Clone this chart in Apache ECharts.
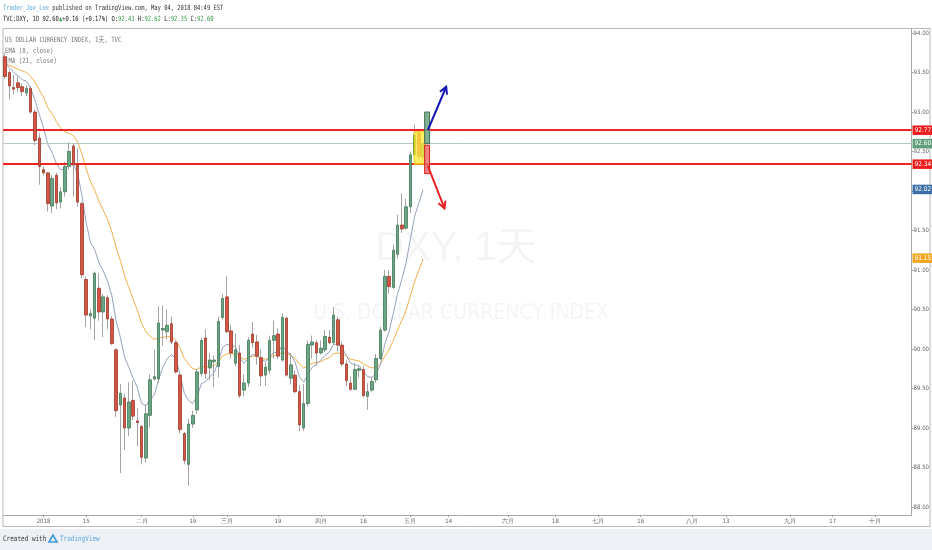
<!DOCTYPE html>
<html><head><meta charset="utf-8">
<script src="https://cdn.jsdelivr.net/npm/echarts@6/dist/echarts.min.js"></script>
<style>html,body{margin:0;padding:0;background:#fff}#c{width:932px;height:550px}</style>
</head><body><div id="c"></div>
<script>
// ---- data ----
const firstDate = '2017-12-19';
const slotCount = 213; // trading-day slots shown on the time axis (history + empty future)
const opens = [93.70,93.50,93.31,93.37,93.32,93.24,93.30,93.00,92.67,92.27,
 92.23,91.81,92.20,91.86,91.99,92.31,92.57,92.33,91.84,90.88,
 90.42,90.39,90.77,90.47,90.65,90.38,89.99,89.29,89.38,89.00,
 89.35,89.09,89.02,88.62,89.16,89.62,89.62,90.24,90.22,90.32,
 90.08,89.67,88.93,88.54,89.05,89.23,89.69,90.14,89.76,89.84,
 89.78,90.40,90.66,90.23,89.82,89.95,89.48,89.57,90.19,90.09,
 89.89,89.67,89.73,90.11,90.19,89.86,90.39,89.63,89.67,89.46,
 89.00,89.31,90.05,90.08,89.95,89.99,90.15,90.08,90.37,90.05,
 89.81,89.57,89.49,89.73,89.74,89.40,89.48,89.61,89.88,90.24,
 90.92,90.78,91.20,91.57,91.53,91.80,92.46,92.73,92.43];
const highs = [93.75,93.53,93.47,93.45,93.36,93.34,93.33,93.03,92.73,92.31,
 92.24,92.20,92.23,92.05,92.37,92.62,92.60,92.54,91.86,90.92,
 90.50,90.98,90.96,90.70,90.68,90.41,90.01,89.56,89.44,89.58,
 89.60,89.25,89.04,89.30,89.68,89.99,90.54,90.55,90.50,90.41,
 90.11,89.69,88.95,89.12,89.22,89.75,90.14,90.25,89.95,89.92,
 90.41,90.70,90.92,90.30,90.20,90.05,89.68,90.15,90.34,90.18,
 90.00,89.83,90.17,90.36,90.26,90.45,90.41,89.95,89.73,89.54,
 89.56,90.11,90.17,90.11,90.11,90.24,90.24,90.53,90.41,90.09,
 89.86,89.65,89.82,89.78,89.78,89.57,89.65,89.94,90.28,91.00,
 91.00,91.32,91.70,91.97,91.90,92.50,92.84,92.78,92.62];
const lows = [93.42,93.16,93.22,93.26,93.20,93.20,92.98,92.58,92.08,92.20,
 91.74,91.72,91.77,91.78,91.93,92.27,91.93,91.80,90.90,90.28,
 90.25,90.11,90.36,90.15,90.25,90.05,89.14,88.43,88.72,88.90,
 89.10,88.77,88.54,88.56,89.01,89.60,89.57,90.04,90.12,90.06,
 89.69,88.93,88.54,88.27,89.00,89.18,89.65,89.62,89.60,89.52,
 89.64,90.37,90.20,89.88,89.78,89.38,89.40,89.52,90.02,89.80,
 89.53,89.53,89.68,89.88,89.87,89.84,89.65,89.55,89.44,88.96,
 88.96,89.27,89.88,89.79,89.93,89.96,90.06,90.07,89.97,89.78,
 89.53,89.47,89.48,89.64,89.39,89.23,89.46,89.57,89.86,90.22,
 90.70,90.76,91.15,91.47,91.51,91.72,92.44,92.40,92.35];
const closes = [93.45,93.33,93.29,93.31,93.26,93.30,93.00,92.64,92.31,92.23,
 91.84,92.16,91.85,91.99,92.31,92.50,92.33,91.86,90.94,90.43,
 90.45,90.96,90.47,90.66,90.38,90.07,89.22,89.44,89.00,89.33,
 89.15,89.07,88.63,89.18,89.61,89.65,90.33,90.26,90.30,90.09,
 89.71,88.98,88.59,89.05,89.16,89.71,90.11,89.69,89.86,89.86,
 90.35,90.64,90.22,89.95,89.99,89.41,89.57,90.11,90.08,89.91,
 89.66,89.77,90.11,90.17,89.91,90.40,89.67,89.80,89.46,89.04,
 89.31,90.06,90.09,89.95,90.01,90.16,90.08,90.43,90.05,89.81,
 89.60,89.49,89.74,89.75,89.41,89.46,89.59,89.88,90.24,90.92,
 90.79,91.25,91.57,91.52,91.80,92.46,92.71,92.44,92.60];
const ema8 = [93.62,93.56,93.50,93.46,93.41,93.39,93.30,93.15,92.97,92.80,
 92.59,92.49,92.35,92.27,92.28,92.33,92.33,92.23,91.94,91.60,
 91.35,91.26,91.09,90.99,90.86,90.68,90.36,90.15,89.90,89.77,
 89.63,89.51,89.31,89.28,89.36,89.42,89.62,89.77,89.88,89.93,
 89.88,89.68,89.44,89.35,89.31,89.40,89.56,89.59,89.65,89.70,
 89.84,90.02,90.06,90.04,90.03,89.89,89.82,89.88,89.93,89.92,
 89.87,89.84,89.90,89.96,89.95,90.05,89.97,89.93,89.83,89.65,
 89.58,89.68,89.77,89.81,89.86,89.92,89.96,90.06,90.06,90.01,
 89.92,89.82,89.80,89.79,89.71,89.65,89.64,89.69,89.81,90.06,
 90.22,90.45,90.70,90.88,91.09,91.39,91.68,91.85,92.02];
const ema21 = [93.62,93.59,93.57,93.54,93.52,93.50,93.45,93.38,93.28,93.19,
 93.06,92.98,92.88,92.80,92.75,92.73,92.70,92.62,92.47,92.28,
 92.12,92.01,91.87,91.76,91.64,91.49,91.29,91.12,90.93,90.78,
 90.63,90.49,90.32,90.22,90.16,90.12,90.14,90.15,90.16,90.15,
 90.11,90.01,89.88,89.81,89.75,89.74,89.78,89.77,89.78,89.79,
 89.84,89.91,89.94,89.94,89.94,89.90,89.87,89.89,89.91,89.91,
 89.88,89.87,89.89,89.92,89.92,89.96,89.94,89.92,89.88,89.81,
 89.76,89.79,89.82,89.83,89.84,89.87,89.89,89.94,89.95,89.94,
 89.91,89.87,89.86,89.85,89.81,89.78,89.76,89.77,89.81,89.91,
 89.99,90.11,90.24,90.36,90.49,90.67,90.85,91.00,91.14];
const timeTickLabels = {
 '2018-01-01':'2018','2018-01-15':'15','2018-02-01':'二月','2018-02-19':'19',
 '2018-03-01':'三月','2018-03-19':'19','2018-04-02':'四月','2018-04-16':'16',
 '2018-05-01':'五月','2018-05-14':'14','2018-06-01':'六月','2018-06-18':'18',
 '2018-07-02':'七月','2018-07-16':'16','2018-08-01':'八月','2018-08-13':'13',
 '2018-09-03':'九月','2018-09-17':'17','2018-10-01':'十月'};
const priceTicks = [88.00,88.50,89.00,89.50,90.00,90.50,91.00,91.50,92.00,92.50,93.00,93.50,94.00];
const resistance = 92.77, support = 92.34, lastPrice = 92.60;
const ema8Last = 92.02, ema21Last = 91.15;
// drawn annotations, in (slot position, price)
const zones = [
 {from: 95.9, to: 98.4, top: 92.75, bottom: 92.34},
 {from: 98.35, to: 99.5, top: 93.00, bottom: 92.60},
 {from: 98.35, to: 99.5, top: 92.58, bottom: 92.22}];
const arrows = [
 {from: [99.1, 92.77], to: [103.4, 93.32]},
 {from: [99.1, 92.32], to: [103.0, 91.78]}];

// ---- build ----
const dates = [];
{ let d = new Date(firstDate + 'T00:00:00Z');
  while (dates.length < slotCount) {
    const w = d.getUTCDay();
    if (w !== 0 && w !== 6) dates.push(d.toISOString().slice(0,10));
    d = new Date(d.getTime() + 86400000);
  } }
const wickData = opens.map((o,i)=>[o, closes[i], lows[i], highs[i]]);
const bodyData = opens.map((o,i)=>[o, closes[i], Math.min(o,closes[i]), Math.max(o,closes[i])]);

const NARROW = "'Liberation Sans Narrow','DejaVu Sans Condensed','Liberation Sans',sans-serif";
const MONO = "'DejaVu Sans Mono','Liberation Mono','Noto Sans CJK SC',monospace";

const zoneStyles = [
 {fill:'rgba(255,235,59,0.78)', stroke:'rgba(230,200,0,0.9)', lineWidth:1},
 {fill:'rgba(107,165,131,0.85)', stroke:'#3f6e4f', lineWidth:1},
 {fill:'rgba(240,110,110,0.85)', stroke:'#d42020', lineWidth:1}];
const arrowColors = ['#1414b4', '#e82020'];

function slotPt(api, slot, price){
  const b = Math.floor(slot);
  const p = api.coord([b, price]);
  const bw = api.size([1,0])[0];
  return [p[0] + (slot - b) * bw, p[1]];
}

const chart = echarts.init(document.getElementById('c'), null, {renderer:'canvas'});
const lbl = (val, bg) => ({
  yAxis: val,
  label: {show:true, position:'end', formatter: val.toFixed(2), color:'#fff', backgroundColor:bg,
    fontSize:6.5, fontFamily:NARROW, padding:[1.5,2,1,2], distance:1}
});

chart.setOption({
  animation:false,
  backgroundColor:'#fff',
  grid:{left:3, right:19, top:29, bottom:35, containLabel:false},
  xAxis:{type:'category', data:dates, boundaryGap:true,
    axisLine:{show:true, lineStyle:{color:'#a9a9a9', width:1}},
    axisTick:{show:true, alignWithLabel:true, length:2, lineStyle:{color:'#999'},
      interval:(i,v)=>timeTickLabels[v]!==undefined},
    axisLabel:{show:true, color:'#666', fontSize:6, fontFamily:NARROW, margin:3,
      interval:(i,v)=>timeTickLabels[v]!==undefined, formatter:v=>timeTickLabels[v]||''},
    splitLine:{show:false}},
  yAxis:{type:'value', position:'right', min:87.899, max:94.051, scale:true,
    axisLine:{show:true, lineStyle:{color:'#a9a9a9', width:1}},
    axisTick:{show:true, length:2, lineStyle:{color:'#999'}, customValues:priceTicks},
    axisLabel:{show:true, color:'#666', fontSize:6, fontFamily:NARROW, margin:2,
      customValues:priceTicks, formatter:v=>v.toFixed(2)},
    splitLine:{show:false}},
  graphic:[
    {type:'rect', shape:{x:0, y:529, width:932, height:21}, style:{fill:'#edf1f5'}, z:-10, silent:true},
    {type:'rect', shape:{x:3, y:28.5, width:927, height:498}, style:{fill:'none', stroke:'#b8b8b8', lineWidth:1}, z:-5, silent:true},
    {type:'text', x:456, y:249, z:-8, silent:true, style:{text:'DXY, 1天', fontSize:40, fontFamily:"'Liberation Sans','Noto Sans CJK SC',sans-serif", fill:'rgba(0,0,0,0.045)', textAlign:'center', textVerticalAlign:'middle'}},
    {type:'text', x:461, y:314, z:-8, silent:true, style:{text:'U.S. DOLLAR CURRENCY INDEX', fontSize:21, fontFamily:NARROW, fill:'rgba(0,0,0,0.045)', textAlign:'center', textVerticalAlign:'middle'}},
    {type:'text', x:3, y:8, scaleX:0.76, silent:true, style:{textVerticalAlign:'middle', fontSize:7.2, fontFamily:MONO,
      rich:{b:{fill:'#5aa8dc', fontSize:7.2, fontFamily:MONO}, d:{fill:'#333', fontSize:7.2, fontFamily:MONO}},
      text:'{b|Trader_Joe_Lee}{d| published on TradingView.com, May 04, 2018 04:49 EST}'}},
    {type:'text', x:3, y:19.5, scaleX:0.76, silent:true, style:{textVerticalAlign:'middle', fontSize:7.2, fontFamily:MONO,
      rich:{g:{fill:'#3a9a4a', fontSize:7.2, fontFamily:MONO}, d:{fill:'#222', fontSize:7.2, fontFamily:MONO}},
      text:'{d|TVC:DXY, 1D 92.60}{g|▲}{d|+0.16 (+0.17%) O:}{g|92.43}{d| H:}{g|92.62}{d| L:}{g|92.35}{d| C:}{g|92.60}'}},
    {type:'text', x:5, y:40, scaleX:0.8, silent:true, style:{text:'US DOLLAR CURRENCY INDEX, 1天, TVC', fill:'#777', fontSize:7.2, fontFamily:MONO, textVerticalAlign:'middle'}},
    {type:'text', x:5, y:51, scaleX:0.8, silent:true, style:{text:'EMA (8, close)', fill:'#777', fontSize:7.2, fontFamily:MONO, textVerticalAlign:'middle'}},
    {type:'text', x:5, y:61.5, scaleX:0.8, silent:true, style:{text:'EMA (21, close)', fill:'#777', fontSize:7.2, fontFamily:MONO, textVerticalAlign:'middle'}},
    {type:'text', x:3, y:539.5, scaleX:0.8, silent:true, style:{text:'Created with', fill:'#333', fontSize:7.5, fontFamily:MONO, textVerticalAlign:'middle'}},
    {type:'polygon', silent:true, shape:{points:[[49,542],[53,535],[57,542]]}, style:{fill:'none', stroke:'#3d9bd8', lineWidth:1.6}},
    {type:'text', x:60, y:539.5, scaleX:0.8, silent:true, style:{text:'TradingView', fill:'#5aa8dc', fontSize:7.5, fontFamily:MONO, textVerticalAlign:'middle'}}
  ],
  series:[
    {type:'line', name:'EMA21', data:ema21, showSymbol:false, symbol:'none', z:3,
      lineStyle:{color:'#f3b04d', width:1}, silent:true,
      markLine:{silent:true, symbol:['none','none'], animation:false,
        lineStyle:{color:'rgba(0,0,0,0)', width:0.01, type:'solid'}, data:[lbl(ema21Last,'#f5a623')]}},
    {type:'line', name:'EMA8', data:ema8, showSymbol:false, symbol:'none', z:3,
      lineStyle:{color:'#94a3bf', width:1}, silent:true,
      markLine:{silent:true, symbol:['none','none'], animation:false,
        lineStyle:{color:'rgba(0,0,0,0)', width:0.01, type:'solid'}, data:[lbl(ema8Last,'#3c6fa6')]}},
    {type:'candlestick', name:'wick', data:wickData, barWidth:1, z:4, silent:true,
      itemStyle:{color:'#a4a4a4', color0:'#a4a4a4', borderColor:'#a4a4a4', borderColor0:'#a4a4a4', borderWidth:1}},
    {type:'candlestick', name:'DXY', data:bodyData, barWidth:3, z:5, silent:true,
      itemStyle:{color:'#6ba583', color0:'#d75442', borderColor:'#3f7a58', borderColor0:'#9a3a2c', borderWidth:0.8},
      markLine:{silent:true, symbol:['none','none'], animation:false,
        data:[
          Object.assign(lbl(lastPrice,'#5f9f7c'), {lineStyle:{color:'#b4c8c0', width:1, type:'solid'}}),
          Object.assign(lbl(resistance,'#f01c1c'), {lineStyle:{color:'#f02424', width:2, type:'solid'}}),
          Object.assign(lbl(support,'#f01c1c'), {lineStyle:{color:'#f02424', width:2, type:'solid'}})
        ]}},
    {type:'custom', name:'zones', z:6, silent:true,
      data: zones.map(z=>[Math.floor(z.from), z.top]),
      renderItem:(params, api)=>{
        const z = zones[params.dataIndex], s = zoneStyles[params.dataIndex];
        const a = slotPt(api, z.from, z.top), b = slotPt(api, z.to, z.bottom);
        return {type:'rect', shape:{x:a[0], y:a[1], width:b[0]-a[0], height:b[1]-a[1]},
          style:{fill:s.fill, stroke:s.stroke, lineWidth:s.lineWidth}};
      }},
    {type:'custom', name:'arrows', z:7, silent:true,
      data: arrows.map(a=>[Math.floor(a.from[0]), a.from[1]]),
      renderItem:(params, api)=>{
        const ar = arrows[params.dataIndex], col = arrowColors[params.dataIndex];
        const p0 = slotPt(api, ar.from[0], ar.from[1]), p1 = slotPt(api, ar.to[0], ar.to[1]);
        const dx = p1[0]-p0[0], dy = p1[1]-p0[1], L = Math.hypot(dx,dy), ux = dx/L, uy = dy/L;
        const hl = 7, hw = 3.8;
        const w1 = [p1[0]-ux*hl - uy*hw, p1[1]-uy*hl + ux*hw];
        const w2 = [p1[0]-ux*hl + uy*hw, p1[1]-uy*hl - ux*hw];
        return {type:'group', children:[
          {type:'line', shape:{x1:p0[0], y1:p0[1], x2:p1[0], y2:p1[1]}, style:{stroke:col, lineWidth:2}},
          {type:'polyline', shape:{points:[w1, p1, w2]}, style:{stroke:col, lineWidth:2, fill:null}}
        ]};
      }}
  ]
});
</script></body></html>
